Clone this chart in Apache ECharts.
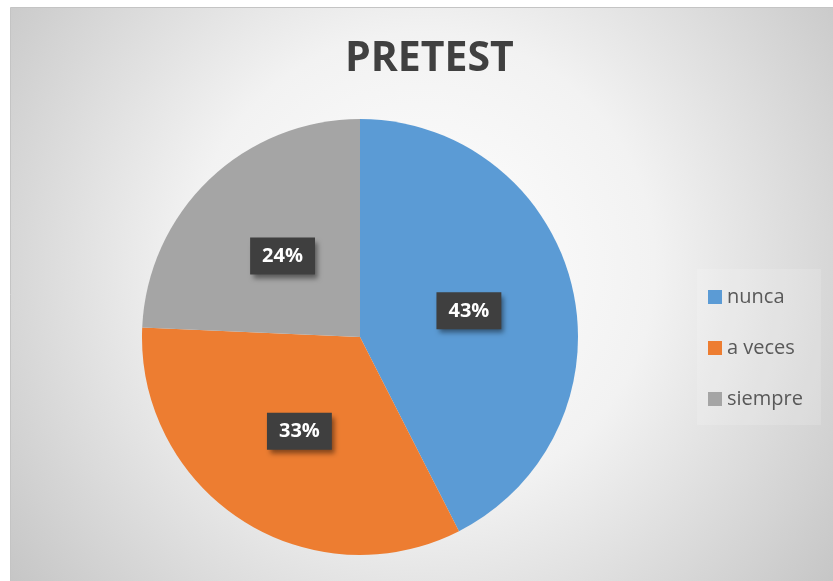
<!DOCTYPE html>
<html>
<head>
<meta charset="utf-8">
<script src="https://cdn.jsdelivr.net/npm/echarts@6/dist/echarts.min.js"></script>
<style>
  html, body { margin: 0; padding: 0; background: #fff; }
  #chart { width: 833px; height: 581px; }
</style>
</head>
<body>
<div id="chart"></div>
<script>
var categories = ['nunca', 'a veces', 'siempre'];
// slice shares as measured from the slice angles; labels show them rounded
var values = [42.5, 33.2, 24.3];
var colors = ['#5B9BD5', '#ED7D31', '#A5A5A5'];

var chart = echarts.init(document.getElementById('chart'), null, { renderer: 'canvas' });

chart.setOption({
  animation: false,
  graphic: [{
    type: 'rect',
    left: 10, top: 7, z: -10,
    shape: { width: 823, height: 574 },
    style: {
      fill: new echarts.graphic.RadialGradient(0.5, 0.45, 0.9, [
        { offset: 0, color: '#ffffff' },
        { offset: 0.45, color: '#f2f2f2' },
        { offset: 1, color: '#c6c6c6' }
      ]),
      stroke: '#c4c4c4',
      lineWidth: 1
    }
  }],
  title: {
    text: 'PRETEST',
    left: 340,
    top: 34,
    textStyle: {
      fontFamily: 'Open Sans',
      fontWeight: 'bold',
      fontSize: 41,
      color: '#404040'
    }
  },
  legend: {
    orient: 'vertical',
    left: 697,
    top: 269,
    padding: [18, 18, 16, 11],
    backgroundColor: 'rgba(255,255,255,0.15)',
    icon: 'rect',
    itemWidth: 14,
    itemHeight: 14,
    itemGap: 31,
    textStyle: {
      fontFamily: 'Open Sans',
      fontSize: 20,
      lineHeight: 20,
      color: '#595959'
    },
    data: categories
  },
  series: [{
    type: 'pie',
    center: [360, 337],
    radius: 218,
    startAngle: 90,
    clockwise: true,
    color: colors,
    label: {
      show: true,
      position: 'inside',
      formatter: function(p) { return Math.round(p.value) + '%'; },
      fontFamily: 'Open Sans',
      fontWeight: 'bold',
      fontSize: 20,
      color: '#ffffff',
      backgroundColor: '#3f3f3f',
      padding: [9, 12, 8, 12],
      shadowColor: 'rgba(0,0,0,0.45)',
      shadowBlur: 5,
      shadowOffsetX: 3,
      shadowOffsetY: 4
    },
    labelLine: { show: false },
    emphasis: { disabled: true },
    data: categories.map(function(name, i) {
      return { name: name, value: values[i] };
    })
  }]
});
</script>
</body>
</html>
